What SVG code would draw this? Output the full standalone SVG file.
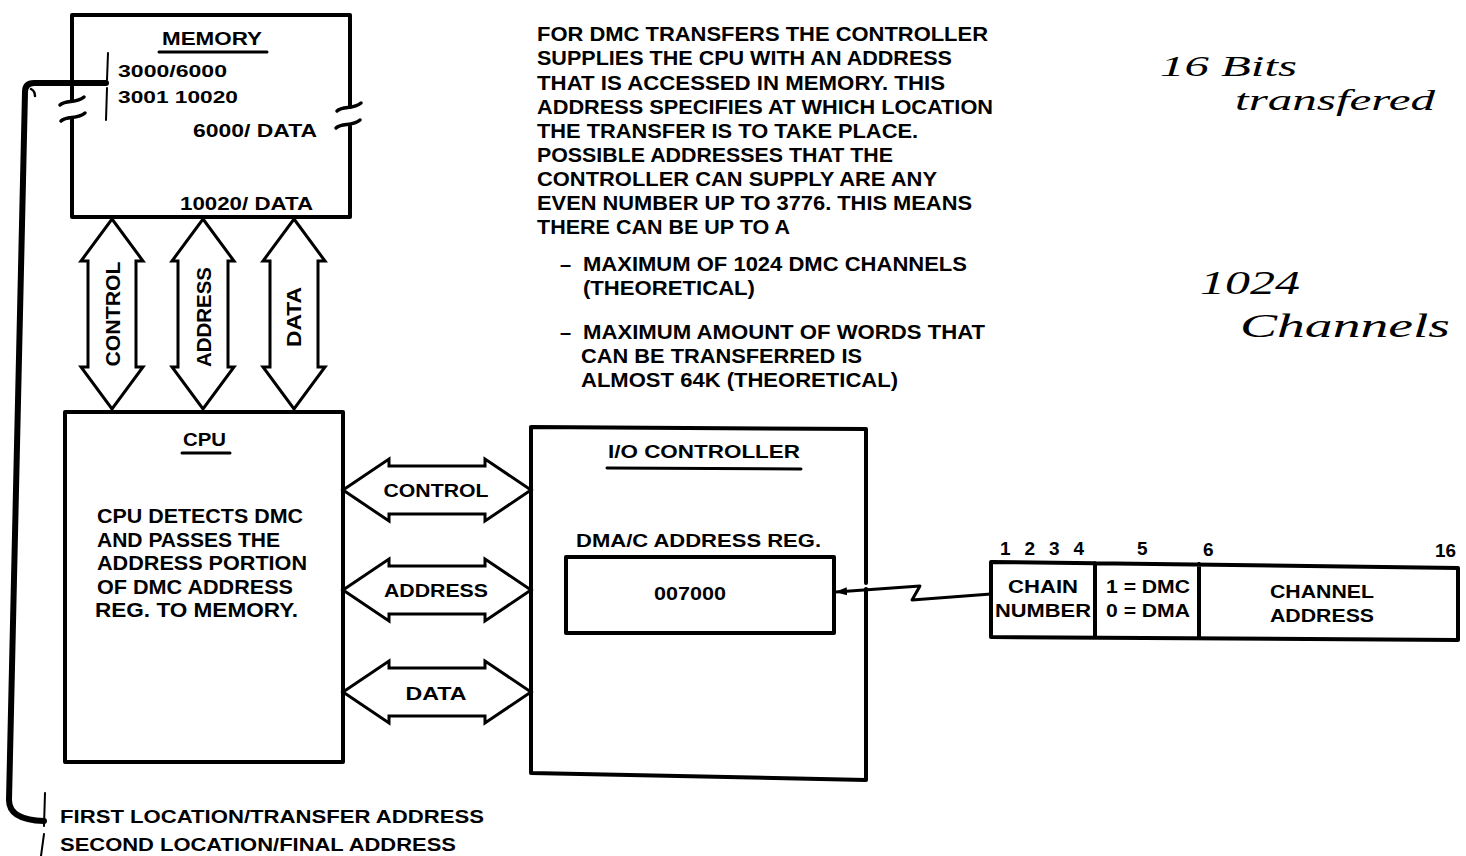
<svg xmlns="http://www.w3.org/2000/svg" width="1466" height="856" viewBox="0 0 1466 856">
<style>
.t{font-family:"Liberation Sans",Arial,sans-serif;font-weight:bold;fill:#000}
.hw{font-family:"Liberation Serif","DejaVu Serif",serif;font-style:italic;fill:#000}
.box{fill:none;stroke:#000;stroke-width:4;stroke-linejoin:round;stroke-linecap:round}
.thin{fill:none;stroke:#000;stroke-width:2;stroke-linecap:round}
.ul{stroke:#000;stroke-width:3;stroke-linecap:round}
.arr{fill:#fff;stroke:#000;stroke-width:3;stroke-linejoin:miter}
.brk{fill:none;stroke:#000;stroke-width:3.5;stroke-linecap:round}
</style>
<defs>
<marker id="ah" markerWidth="12" markerHeight="8" refX="11" refY="4" orient="auto" markerUnits="userSpaceOnUse">
<path d="M0,0 L12,4 L0,8 Z" fill="#000"/>
</marker>
</defs>
<rect width="1466" height="856" fill="#fff"/>

<g id="memory">
<path class="box" d="M72,101 L72,15 L350,15 L350,107 M350,126 L350,217 L72,217 L72,118"/>
<path class="brk" d="M60,105 C66,99 76,104 84,97 M61,121 C67,115 77,120 85,113"/>
<path class="brk" d="M337,111 C343,105 353,110 361,103 M336,128 C342,122 352,127 360,120"/>
<text class="t" x="162" y="45" font-size="19" textLength="100" lengthAdjust="spacingAndGlyphs">MEMORY</text>
<line class="ul" x1="159" y1="52" x2="267" y2="52"/>
<path class="thin" d="M108,53 L107,80 M107,88 L106,120"/>
<text class="t" x="118" y="77" font-size="17" textLength="109" lengthAdjust="spacingAndGlyphs">3000/6000</text>
<text class="t" x="118" y="103" font-size="17" textLength="120" lengthAdjust="spacingAndGlyphs">3001 10020</text>
<text class="t" x="193" y="137" font-size="18" textLength="124" lengthAdjust="spacingAndGlyphs">6000/ DATA</text>
<text class="t" x="180" y="210" font-size="18" textLength="133" lengthAdjust="spacingAndGlyphs">10020/ DATA</text>
</g>

<g id="cpu">
<rect class="box" x="65" y="412" width="278" height="350"/>
<text class="t" x="183" y="446" font-size="19" textLength="43" lengthAdjust="spacingAndGlyphs">CPU</text>
<line class="ul" x1="182" y1="453" x2="230" y2="453"/>
<text class="t" x="97" y="523" font-size="20" textLength="206" lengthAdjust="spacingAndGlyphs">CPU DETECTS DMC</text>
<text class="t" x="97" y="547" font-size="20" textLength="183" lengthAdjust="spacingAndGlyphs">AND PASSES THE</text>
<text class="t" x="97" y="570" font-size="20" textLength="210" lengthAdjust="spacingAndGlyphs">ADDRESS PORTION</text>
<text class="t" x="97" y="594" font-size="20" textLength="196" lengthAdjust="spacingAndGlyphs">OF DMC ADDRESS</text>
<text class="t" x="95" y="617" font-size="20" textLength="203" lengthAdjust="spacingAndGlyphs">REG. TO MEMORY.</text>
</g>

<g id="io-controller">
<path class="box" d="M866,589 L866,780 L531,773 L531,427 L866,429 L866,583"/>
<text class="t" x="608" y="458" font-size="19" textLength="192" lengthAdjust="spacingAndGlyphs">I/O CONTROLLER</text>
<line class="ul" x1="607" y1="468" x2="801" y2="469"/>
<text class="t" x="576" y="547" font-size="19" textLength="245" lengthAdjust="spacingAndGlyphs">DMA/C ADDRESS REG.</text>
</g>

<g id="address-register">
<rect class="box" x="566" y="557" width="268" height="76" stroke-width="3.5"/>
<text class="t" x="690" y="600" font-size="19" text-anchor="middle" textLength="72" lengthAdjust="spacingAndGlyphs">007000</text>
</g>

<g id="bit-field">
<path class="box" stroke-width="3.5" d="M991,562 L1458,568 L1458,640 L991,637 Z M1095,563 L1095,637 M1199,564 L1199,638"/>
<text class="t" x="1000" y="555" font-size="19" textLength="84" lengthAdjust="spacing">1 2 3 4</text>
<text class="t" x="1137" y="555" font-size="19">5</text>
<text class="t" x="1203" y="556" font-size="19">6</text>
<text class="t" x="1435" y="557" font-size="19" textLength="21" lengthAdjust="spacingAndGlyphs">16</text>
<text class="t" x="1043" y="593" font-size="18" text-anchor="middle" textLength="70" lengthAdjust="spacingAndGlyphs">CHAIN</text>
<text class="t" x="1043" y="617" font-size="18" text-anchor="middle" textLength="96" lengthAdjust="spacingAndGlyphs">NUMBER</text>
<text class="t" x="1148" y="593" font-size="18" text-anchor="middle" textLength="84" lengthAdjust="spacingAndGlyphs">1 = DMC</text>
<text class="t" x="1148" y="617" font-size="18" text-anchor="middle" textLength="84" lengthAdjust="spacingAndGlyphs">0 = DMA</text>
<text class="t" x="1322" y="598" font-size="18" text-anchor="middle" textLength="104" lengthAdjust="spacingAndGlyphs">CHANNEL</text>
<text class="t" x="1322" y="622" font-size="18" text-anchor="middle" textLength="104" lengthAdjust="spacingAndGlyphs">ADDRESS</text>
</g>

<g id="connectors">
<path class="arr" d="M112,219 L143,261 L136,261 L136,367 L143,367 L112,409 L81,367 L88,367 L88,261 L81,261 Z"/>
<path class="arr" d="M203,219 L234,261 L228,261 L228,367 L234,367 L203,409 L172,367 L178,367 L178,261 L172,261 Z"/>
<path class="arr" d="M294,219 L325,261 L318,261 L318,367 L325,367 L294,409 L263,367 L270,367 L270,261 L263,261 Z"/>
<text class="t" transform="translate(113,314) rotate(-90)" y="7" font-size="20" text-anchor="middle" textLength="105" lengthAdjust="spacingAndGlyphs">CONTROL</text>
<text class="t" transform="translate(204,317) rotate(-90)" y="7" font-size="20" text-anchor="middle" textLength="100" lengthAdjust="spacingAndGlyphs">ADDRESS</text>
<text class="t" transform="translate(294,317) rotate(-90)" y="7" font-size="20" text-anchor="middle" textLength="60" lengthAdjust="spacingAndGlyphs">DATA</text>

<path class="arr" d="M343,490 L389,459 L389,466 L485,466 L485,459 L531,490 L485,521 L485,514 L389,514 L389,521 Z"/>
<path class="arr" d="M343,590 L389,559 L389,566 L485,566 L485,559 L531,590 L485,621 L485,614 L389,614 L389,621 Z"/>
<path class="arr" d="M343,692 L389,661 L389,668 L485,668 L485,661 L531,692 L485,723 L485,716 L389,716 L389,723 Z"/>
<text class="t" x="436" y="497" font-size="19" text-anchor="middle" textLength="105" lengthAdjust="spacingAndGlyphs">CONTROL</text>
<text class="t" x="436" y="597" font-size="19" text-anchor="middle" textLength="104" lengthAdjust="spacingAndGlyphs">ADDRESS</text>
<text class="t" x="436" y="700" font-size="19" text-anchor="middle" textLength="61" lengthAdjust="spacingAndGlyphs">DATA</text>

<path fill="none" stroke="#000" stroke-width="3" stroke-linejoin="round" marker-end="url(#ah)" d="M991,594 L912,600 L920,586 L836,592"/>

<path fill="none" stroke="#000" stroke-width="6" stroke-linecap="round" stroke-linejoin="round" d="M106,83 L34,83 Q25,83 25,92 L9,800 Q9,820 44,821"/>
<path fill="none" stroke="#000" stroke-width="2.5" stroke-linecap="round" d="M31,89 Q35,91 35,96"/>
</g>

<g id="note">
<text class="t" x="537" y="41" font-size="20" textLength="451" lengthAdjust="spacingAndGlyphs">FOR DMC TRANSFERS THE CONTROLLER</text>
<text class="t" x="537" y="65" font-size="20" textLength="415" lengthAdjust="spacingAndGlyphs">SUPPLIES THE CPU WITH AN ADDRESS</text>
<text class="t" x="537" y="90" font-size="20" textLength="408" lengthAdjust="spacingAndGlyphs">THAT IS ACCESSED IN MEMORY. THIS</text>
<text class="t" x="537" y="114" font-size="20" textLength="456" lengthAdjust="spacingAndGlyphs">ADDRESS SPECIFIES AT WHICH LOCATION</text>
<text class="t" x="537" y="138" font-size="20" textLength="381" lengthAdjust="spacingAndGlyphs">THE TRANSFER IS TO TAKE PLACE.</text>
<text class="t" x="537" y="162" font-size="20" textLength="356" lengthAdjust="spacingAndGlyphs">POSSIBLE ADDRESSES THAT THE</text>
<text class="t" x="537" y="186" font-size="20" textLength="400" lengthAdjust="spacingAndGlyphs">CONTROLLER CAN SUPPLY ARE ANY</text>
<text class="t" x="537" y="210" font-size="20" textLength="435" lengthAdjust="spacingAndGlyphs">EVEN NUMBER UP TO 3776. THIS MEANS</text>
<text class="t" x="537" y="234" font-size="20" textLength="253" lengthAdjust="spacingAndGlyphs">THERE CAN BE UP TO A</text>
<text class="t" x="560" y="271" font-size="20">–</text>
<text class="t" x="583" y="271" font-size="20" textLength="384" lengthAdjust="spacingAndGlyphs">MAXIMUM OF 1024 DMC CHANNELS</text>
<text class="t" x="583" y="295" font-size="20" textLength="172" lengthAdjust="spacingAndGlyphs">(THEORETICAL)</text>
<text class="t" x="560" y="339" font-size="20">–</text>
<text class="t" x="583" y="339" font-size="20" textLength="402" lengthAdjust="spacingAndGlyphs">MAXIMUM AMOUNT OF WORDS THAT</text>
<text class="t" x="581" y="363" font-size="20" textLength="281" lengthAdjust="spacingAndGlyphs">CAN BE TRANSFERRED IS</text>
<text class="t" x="581" y="387" font-size="20" textLength="317" lengthAdjust="spacingAndGlyphs">ALMOST 64K (THEORETICAL)</text>
</g>

<g id="handwritten">
<text class="hw" x="1160" y="76" font-size="30" textLength="137" lengthAdjust="spacingAndGlyphs">16 Bits</text>
<text class="hw" x="1235" y="110" font-size="30" textLength="200" lengthAdjust="spacingAndGlyphs">transfered</text>
<text class="hw" x="1200" y="294" font-size="34" textLength="100" lengthAdjust="spacingAndGlyphs">1024</text>
<text class="hw" x="1240" y="337" font-size="34" textLength="210" lengthAdjust="spacingAndGlyphs">Channels</text>
</g>

<g id="legend">
<path class="thin" d="M45,793 L44,826 M44,834 L41,856"/>
<text class="t" x="60" y="823" font-size="19" textLength="424" lengthAdjust="spacingAndGlyphs">FIRST LOCATION/TRANSFER ADDRESS</text>
<text class="t" x="60" y="851" font-size="19" textLength="396" lengthAdjust="spacingAndGlyphs">SECOND LOCATION/FINAL ADDRESS</text>
</g>
</svg>
